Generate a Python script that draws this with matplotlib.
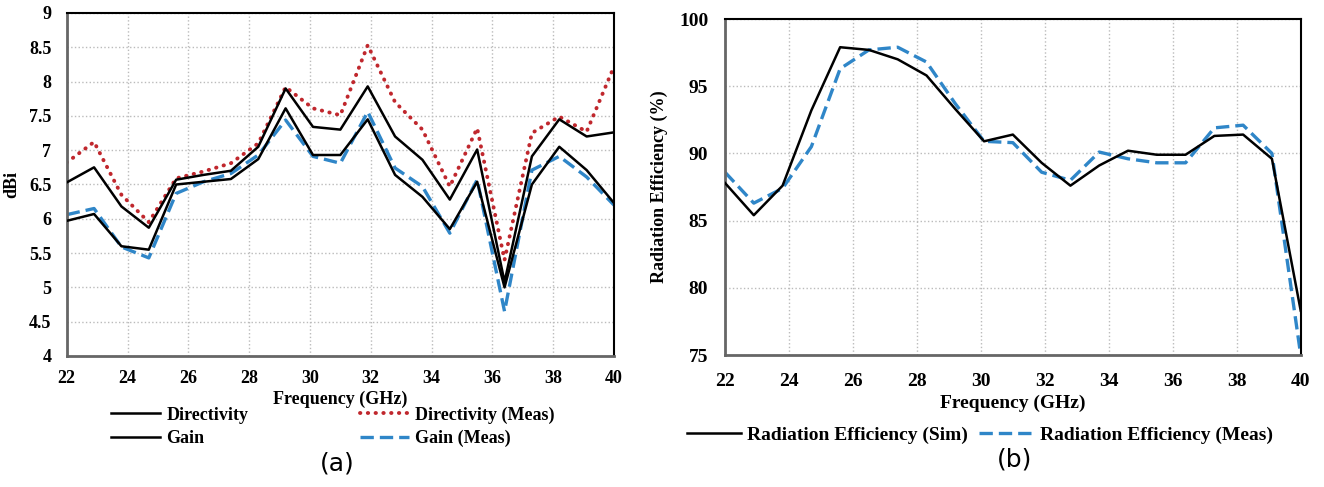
import matplotlib
matplotlib.use('Agg')
import matplotlib.pyplot as plt
from matplotlib.ticker import FormatStrFormatter, MultipleLocator

# Frequency sweep, 0.9 GHz step
freq = [22.0, 22.9, 23.8, 24.7, 25.6, 26.5, 27.4, 28.3, 29.2, 30.1, 31.0,
        31.9, 32.8, 33.7, 34.6, 35.5, 36.4, 37.3, 38.2, 39.1, 40.0]

# (a) directivity / gain, dBi
directivity = [6.53, 6.75, 6.18, 5.87, 6.57, 6.64, 6.70, 7.05, 7.90, 7.34, 7.30,
               7.93, 7.20, 6.86, 6.28, 7.01, 5.08, 6.91, 7.45, 7.20, 7.26]
directivity_meas = [6.82, 7.12, 6.35, 5.95, 6.59, 6.69, 6.81, 7.10, 7.92, 7.61, 7.51,
                    8.53, 7.70, 7.30, 6.47, 7.32, 5.40, 7.25, 7.49, 7.27, 8.22]
gain = [5.97, 6.07, 5.60, 5.55, 6.50, 6.54, 6.58, 6.87, 7.61, 6.93, 6.93,
        7.45, 6.64, 6.32, 5.85, 6.54, 5.00, 6.50, 7.05, 6.71, 6.23]
gain_meas = [6.06, 6.15, 5.59, 5.43, 6.37, 6.54, 6.66, 6.93, 7.44, 6.91, 6.81,
             7.56, 6.74, 6.47, 5.79, 6.57, 4.65, 6.71, 6.91, 6.61, 6.20]

# (b) radiation efficiency, %
eff_sim = [87.8, 85.4, 87.6, 93.2, 97.9, 97.7, 97.0, 95.8, 93.3, 90.9, 91.4,
           89.3, 87.6, 89.1, 90.2, 89.9, 89.9, 91.3, 91.4, 89.6, 78.3]
eff_meas = [88.6, 86.3, 87.4, 90.5, 96.3, 97.7, 97.9, 96.8, 93.7, 90.9, 90.8,
            88.6, 88.0, 90.1, 89.6, 89.3, 89.3, 91.9, 92.1, 90.0, 75.0]

BLUE = '#2f86c8'
RED = '#c0272d'
SERIF = 'Liberation Serif'

plt.rcParams['font.family'] = SERIF
plt.rcParams['font.weight'] = 'bold'

fig = plt.figure(figsize=(13.24, 4.87), dpi=100)
W, H = 1324, 487
ax1 = fig.add_axes([66.7 / W, 1 - 356 / H, (614 - 66.7) / W, (356 - 13) / H])
ax2 = fig.add_axes([725 / W, 1 - 355 / H, (1300.7 - 725) / W, (355 - 19) / H])


def style_axes(ax, size, xpad, ypad):
    ax.grid(True, color='#bbbbbb', linestyle=':', linewidth=1.0)
    ax.set_axisbelow(True)
    ax.tick_params(length=0, labelsize=size)
    ax.tick_params(axis='x', pad=xpad)
    ax.tick_params(axis='y', pad=ypad)
    for lbl in ax.get_xticklabels() + ax.get_yticklabels():
        lbl.set_fontweight('bold')
    for side in ('left', 'bottom'):
        ax.spines[side].set_color('#666666')
        ax.spines[side].set_linewidth(2.0)
    for side in ('top', 'right'):
        ax.spines[side].set_color('black')
        ax.spines[side].set_linewidth(1.5)


# (a)
ax1.plot(freq, directivity, color='black', lw=1.8, label='Directivity', zorder=3)
ax1.plot(freq, gain, color='black', lw=1.8, label='Gain', zorder=3)
ax1.plot(freq, directivity_meas, color=RED, lw=2.8, linestyle=(0, (0.1, 1.9)),
         dash_capstyle='round', label='Directivity (Meas)', zorder=2)
ax1.plot(freq, gain_meas, color=BLUE, lw=2.4, linestyle=(0, (4, 1.8)),
         label='Gain (Meas)', zorder=2)
ax1.set_xlim(22, 40)
ax1.set_ylim(4, 9)
ax1.xaxis.set_major_locator(MultipleLocator(2))
ax1.yaxis.set_major_locator(MultipleLocator(0.5))
ax1.yaxis.set_major_formatter(FormatStrFormatter('%g'))
style_axes(ax1, 13, 10, 11)
ax1.set_xlabel('Frequency (GHz)', fontsize=13, fontweight='bold', labelpad=3)
ax1.set_ylabel('dBi', fontsize=13, fontweight='bold', labelpad=6)

ax1.legend(loc='upper left', bbox_to_anchor=(95 / W, 1 - 390 / H),
           bbox_transform=fig.transFigure, ncol=2, frameon=False,
           prop={'family': SERIF, 'weight': 'bold', 'size': 13},
           handlelength=2.7, columnspacing=6.2, labelspacing=0.35,
           handletextpad=0.35)

# (b)
ax2.plot(freq, eff_sim, color='black', lw=1.8, label='Radiation Efficiency (Sim)', zorder=3)
ax2.plot(freq, eff_meas, color=BLUE, lw=2.4, linestyle=(0, (4, 1.8)),
         label='Radiation Efficiency (Meas)', zorder=2)
ax2.set_xlim(22, 40)
ax2.set_ylim(75, 100)
ax2.xaxis.set_major_locator(MultipleLocator(2))
ax2.yaxis.set_major_locator(MultipleLocator(5))
style_axes(ax2, 14, 13, 12)
ax2.set_xlabel('Frequency (GHz)', fontsize=14, fontweight='bold', labelpad=3)
ax2.set_ylabel('Radiation Efficiency (%)', fontsize=13, fontweight='bold', labelpad=8)

ax2.legend(loc='upper left', bbox_to_anchor=(669 / W, 1 - 409 / H),
           bbox_transform=fig.transFigure, ncol=2, frameon=False,
           prop={'family': SERIF, 'weight': 'bold', 'size': 14},
           handlelength=2.8, columnspacing=0.6, handletextpad=0.3)

fig.text(337 / W, 1 - 463 / H, '(a)', fontsize=18, fontweight='normal',
         family='DejaVu Sans', ha='center', va='center')
fig.text(1015 / W, 1 - 460 / H, '(b)', fontsize=18, fontweight='normal',
         family='DejaVu Sans', ha='center', va='center')

fig.savefig('out.png', dpi=100)
